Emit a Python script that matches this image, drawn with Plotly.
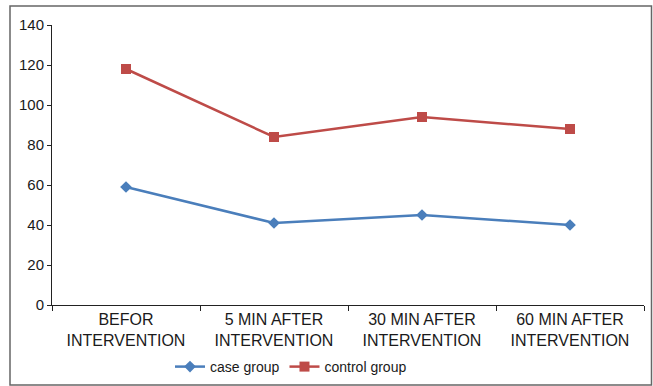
import plotly.graph_objects as go

categories = ["BEFOR<br>INTERVENTION", "5 MIN AFTER<br>INTERVENTION",
              "30 MIN AFTER<br>INTERVENTION", "60 MIN AFTER<br>INTERVENTION"]
case_group = [59, 41, 45, 40]
control_group = [118, 84, 94, 88]

W, H = 653, 386
L, R, T, B = 52, 9, 25, 81
pw, ph = W - L - R, H - T - B

def px2x(p):
    return (p - L) / pw

def py2y(p):
    return (H - B - p) / ph

fig = go.Figure()
fig.add_trace(go.Scatter(x=categories, y=case_group, name="case group", mode="lines+markers",
                         line=dict(color="#4a7ebb", width=2.5),
                         marker=dict(symbol="diamond", size=9, color="#4a7ebb")))
fig.add_trace(go.Scatter(x=categories, y=control_group, name="control group", mode="lines+markers",
                         line=dict(color="#be4b48", width=2.5),
                         marker=dict(symbol="square", size=10, color="#be4b48")))

fig.update_layout(
    width=W, height=H,
    margin=dict(l=L, r=R, t=T, b=B, autoexpand=False),
    paper_bgcolor="white", plot_bgcolor="white",
    font=dict(family="Liberation Sans, Arial, sans-serif", size=15, color="#1a1a1a"),
    showlegend=True,
    legend=dict(orientation="h", x=px2x(170), xanchor="left", y=py2y(367), yanchor="middle",
                font=dict(size=14), traceorder="normal"),
    xaxis=dict(type="category", range=[-0.5, 3.5], showline=True, linecolor="#222", linewidth=1,
               ticks="outside", tickson="boundaries", ticklen=5, tickcolor="#222",
               tickfont=dict(size=16),
               showgrid=False, zeroline=False, automargin=False),
    yaxis=dict(range=[0, 140], dtick=20, showline=True, linecolor="#222", linewidth=1,
               ticks="outside", ticklen=4, tickcolor="#222", showgrid=False, zeroline=False,
               automargin=False),
    shapes=[dict(type="rect", xref="paper", yref="paper",
                 x0=px2x(10), x1=px2x(651.5), y0=py2y(385), y1=py2y(6),
                 line=dict(color="#666", width=1.5), layer="below")],
)

fig.write_html("out.html", config={"displayModeBar": False},
               post_script="document.body.style.margin='0';document.body.style.overflow='hidden';")
